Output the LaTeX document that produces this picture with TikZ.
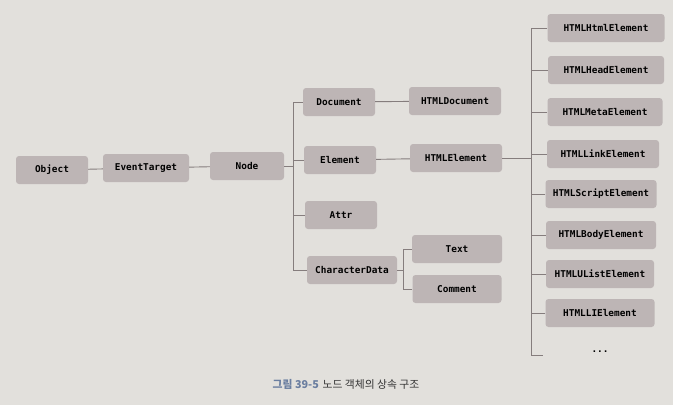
\documentclass[tikz,border=0pt]{standalone}
\usepackage{fontspec}
\setmonofont{DejaVu Sans Mono}
\newfontfamily\krfont{Noto Sans CJK KR}
\definecolor{pagebg}{HTML}{E2E0DC}
\definecolor{boxfill}{HTML}{BDB5B5}
\definecolor{linec}{HTML}{857D7D}
\definecolor{capblue}{HTML}{6A7EA0}
\definecolor{captext}{HTML}{333333}
\tikzset{
  cls/.style={draw=none, fill=boxfill, rounded corners=3pt, minimum height=28pt,
    inner sep=0pt, font=\ttfamily\bfseries\fontsize{9.4}{11}\selectfont, text=black},
  conn/.style={draw=linec, line width=0.9pt},
}
\begin{document}
\begin{tikzpicture}[x=1pt,y=-1pt]
\fill[pagebg] (0,0) rectangle (673,405);
\useasboundingbox (0,0) rectangle (673,405);
% main row
\node[cls, minimum width=72pt] (obj) at (52,170) {Object};
\node[cls, minimum width=86pt] (et) at (146,168) {EventTarget};
\node[cls, minimum width=74pt] (node) at (247,166) {Node};
% second column
\node[cls, minimum width=72pt] (doc) at (339,102) {Document};
\node[cls, minimum width=72pt] (el) at (340,160) {Element};
\node[cls, minimum width=72pt] (attr) at (341,215) {Attr};
\node[cls, minimum width=90pt] (cd) at (352,270) {CharacterData};
% third column
\node[cls, minimum width=92pt] (hdoc) at (455,101) {HTMLDocument};
\node[cls, minimum width=92pt] (hel) at (456,158) {HTMLElement};
\node[cls, minimum width=90pt] (text) at (457,249) {Text};
\node[cls, minimum width=89pt] (com) at (457,289) {Comment};
% right column
\node[cls, minimum width=117pt] (h1) at (606,28) {HTMLHtmlElement};
\node[cls, minimum width=116pt] (h2) at (606,70) {HTMLHeadElement};
\node[cls, minimum width=115pt] (h3) at (605,112) {HTMLMetaElement};
\node[cls, minimum width=112pt] (h4) at (603,154) {HTMLLinkElement};
\node[cls, minimum width=111pt] (h5) at (601,194) {HTMLScriptElement};
\node[cls, minimum width=110pt] (h6) at (601,235) {HTMLBodyElement};
\node[cls, minimum width=108pt] (h7) at (600,274) {HTMLUListElement};
\node[cls, minimum width=109pt] (h8) at (600,313) {HTMLLIElement};
\node[font=\ttfamily\bfseries\fontsize{9.4}{11}\selectfont] (dots) at (600,352) {...};
% connectors
\draw[conn] (obj) -- (et);
\draw[conn] (et) -- (node);
\coordinate (ta) at (293,102);
\coordinate (tb) at (293,270);
\draw[conn] (ta) -- (tb);
\draw[conn] (node.east) -- (node.east -| ta);
\foreach \n in {doc,el,attr,cd} \draw[conn] (\n.west) -- (\n.west -| ta);
\draw[conn] (doc) -- (hdoc);
\draw[conn] (el) -- (hel);
\coordinate (ca) at (403,249);
\coordinate (cb) at (403,289);
\draw[conn] (ca) -- (cb);
\draw[conn] (cd.east) -- (cd.east -| ca);
\draw[conn] (text.west) -- (text.west -| ca);
\draw[conn] (com.west) -- (com.west -| ca);
\coordinate (ra) at (531,28);
\coordinate (rb) at (531,355);
\coordinate (dl) at (543,355);
\draw[conn] (ra) -- (rb) -- (dl);
\draw[conn] (hel.east) -- (hel.east -| ra);
\foreach \n in {h1,h2,h3,h4,h5,h6,h7,h8} \draw[conn] (\n.west) -- (\n.west -| ra);
% caption
\node[font=\krfont\fontsize{10.8}{13}\selectfont, anchor=center] (cap) at (346,384)
  {\textcolor{capblue}{\bfseries 그림 39-5}\hspace{0.35em}\textcolor{captext}{노드 객체의 상속 구조}};
\end{tikzpicture}
\end{document}
